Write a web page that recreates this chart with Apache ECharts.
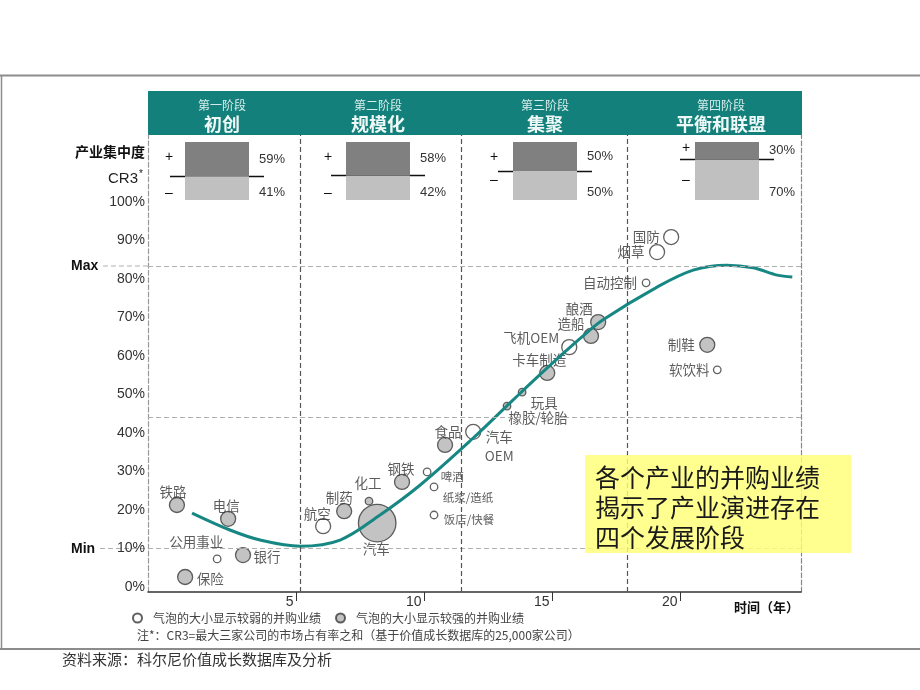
<!DOCTYPE html>
<html><head><meta charset="utf-8">
<script src="https://cdn.jsdelivr.net/npm/echarts@6/dist/echarts.min.js"></script>
<style>html,body{margin:0;padding:0;background:#fff}#c{width:920px;height:690px}</style>
</head><body><div id="c"></div>
<script>
// ---------- data ----------
const industries = ['铁路','电信','公用事业','银行','保险','航空','制药','化工','汽车','钢铁','啤酒','纸浆/造纸','饭店/快餐','食品','汽车OEM','橡胶/轮胎','玩具','卡车制造','飞机OEM','造船','酿酒','自动控制','烟草','国防','制鞋','软饮料'];
const years =      [0.33, 2.33, 1.90, 2.91, 0.65, 6.04, 6.86, 7.83, 8.15, 9.12, 10.10, 10.37, 10.37, 10.80, 11.90, 13.22, 13.81, 14.79, 15.65, 16.50, 16.78, 18.65, 19.08, 19.63, 21.04, 21.43];
const cr3 =        [21.3, 17.7, 7.3, 8.3, 2.6, 15.8, 19.7, 22.3, 16.6, 27.3, 29.9, 26.0, 18.7, 36.9, 40.3, 47.0, 50.6, 55.6, 62.3, 65.2, 68.8, 79.0, 87.0, 90.9, 62.9, 56.4];
const bubbleSize = [2, 2, 1, 2, 2, 2, 2, 1, 5, 2, 1, 1, 1, 2, 2, 1, 1, 2, 2, 2, 2, 1, 2, 2, 2, 1];
const strength =   ['强','强','弱','强','强','弱','强','强','强','强','弱','弱','弱','强','弱','强','强','强','弱','强','强','弱','弱','弱','强','弱'];

const curveYears = [0.92, 2.4, 3.58, 5.14, 6.7, 8.26, 9.83, 11.9, 13.46, 14.79, 16.1, 16.97, 19.08, 20.49, 21.8, 22.83, 23.77, 24.36];
const curveCR3 =   [19.2, 14.8, 12.2, 10.6, 12.2, 18.7, 26.5, 38.7, 48.6, 56.9, 64.7, 69.4, 77.9, 82.3, 83.6, 82.9, 81.0, 80.5];

const phaseBounds = [5.14, 11.43, 17.9];
const refLevels = [10, 44.2, 83.4];
const yTicks = [0,10,20,30,40,50,60,70,80,90,100];
const xTicks = [5,10,15,20];

const phaseSmall = ['第一阶段','第二阶段','第三阶段','第四阶段'];
const phaseNames = ['初创','规模化','集聚','平衡和联盟'];
const cr3Plus =  [59, 58, 50, 30];
const cr3Minus = [41, 42, 50, 70];

const weakName = '气泡的大小显示较弱的并购业绩';
const strongName = '气泡的大小显示较强的并购业绩';

// ---------- styles ----------
const CJK = '"Noto Sans CJK SC", sans-serif';
const LAT = '"Liberation Sans", Arial, sans-serif';
const labelOffset = {
 '铁路':[-4,-13], '电信':[-2,-13], '公用事业':[-21,-17], '银行':[24,2], '保险':[25,2], '航空':[-6,-12],
 '制药':[-5,-13], '化工':[-1,-18], '汽车':[-1,26], '钢铁':[-1,-13], '啤酒':[25,5], '纸浆/造纸':[34,11],
 '饭店/快餐':[35,5], '食品':[3,-13], '汽车OEM':[26,15], '橡胶/轮胎':[31,12], '玩具':[22,11], '卡车制造':[-8,-13],
 '飞机OEM':[-38,-9], '造船':[-20,-12], '酿酒':[-19,-13], '自动控制':[-36,0], '烟草':[-26,0], '国防':[-25,0],
 '制鞋':[-26,0], '软饮料':[-28,0]
};
const smallLabels = ['啤酒','纸浆/造纸','饭店/快餐'];
const labelText = {'汽车OEM':'汽车\nOEM'};
const panelCenters = [217, 378, 545, 727];
const headerCenters = [222, 378, 545, 721];

function bubbles(kind){
  const out = [];
  industries.forEach((n,i)=>{
    if(strength[i]!==kind) return;
    const off = labelOffset[n] || [0,0];
    out.push({
      name:n, value:[years[i], cr3[i], bubbleSize[i]],
      label:{offset:off, fontSize: smallLabels.includes(n)?11.5:13.5,
        formatter: labelText[n] || n, lineHeight:19}
    });
  });
  return out;
}

const chart = echarts.init(document.getElementById('c'), null, {renderer:'canvas'});

const grids = [{left:148, top:135, width:653, height:457, containLabel:false, outerBoundsMode:'none'}];
const xAxes = [{
  type:'value', gridIndex:0, min:-0.8, max:24.7,
  axisLine:{onZero:false, lineStyle:{color:'#333', width:1.5}},
  axisTick:{show:true, customValues:xTicks, length:9, lineStyle:{color:'#333'}},
  axisLabel:{customValues:xTicks, align:'right', margin:3, padding:[0,3,0,0], color:'#333', fontSize:14, fontFamily:LAT},
  splitLine:{show:false}
}];
const yAxes = [{
  type:'value', gridIndex:0, min:-1.3, max:117.4,
  axisLine:{show:true, onZero:false, lineStyle:{color:'#999', type:'dashed', width:1.2}},
  axisTick:{show:false},
  axisLabel:{customValues:yTicks, formatter:'{value}%', margin:3, color:'#333', fontSize:14, fontFamily:LAT},
  splitLine:{show:false}
},{
  type:'value', gridIndex:0, min:-1.3, max:117.4, position:'right',
  axisLine:{show:true, onZero:false, lineStyle:{color:'#888', type:'dashed', width:1.2}},
  axisTick:{show:false}, axisLabel:{show:false}, splitLine:{show:false}
}];

const series = [
  { // reference lines
    type:'line', xAxisIndex:0, yAxisIndex:0, data:[], z:1, silent:true,
    markLine:{ symbol:'none', silent:true, label:{show:false},
      data:[
        ...refLevels.map(v=>({yAxis:v, lineStyle:{color:'#b0b0b0', type:[5,3], width:1}})),
        ...phaseBounds.map(v=>({xAxis:v, lineStyle:{color:'#555', type:[5,3], width:1.2}}))
      ]}
  },
  {
    name:strongName, type:'scatter', xAxisIndex:0, yAxisIndex:0, z:3,
    symbolSize: v => v[2]*7.5,
    itemStyle:{color:'#b4b4b4', borderColor:'#3a3a3a', borderWidth:1.3},
    label:{show:true, position:'inside', align:'center', verticalAlign:'middle', color:'#333', fontFamily:CJK},
    data: bubbles('强')
  },
  {
    name:weakName, type:'scatter', xAxisIndex:0, yAxisIndex:0, z:3,
    symbolSize: v => v[2]*7.5,
    itemStyle:{color:'#ffffff', borderColor:'#3a3a3a', borderWidth:1.3},
    label:{show:true, position:'inside', align:'center', verticalAlign:'middle', color:'#333', fontFamily:CJK},
    data: bubbles('弱')
  },
  {
    type:'line', xAxisIndex:0, yAxisIndex:0, z:4, smooth:0.35, showSymbol:false, silent:true,
    data: curveYears.map((x,i)=>[x, curveCR3[i]]),
    lineStyle:{color:'#178783', width:3}
  }
];

// CR3 boxes (main grid owns yAxis 0 and 1, panel p uses yAxis p+2)
panelCenters.forEach((c,p)=>{
  const gi = p+1;
  grids.push({left:c-47, top:142, width:94, height:58, containLabel:false, outerBoundsMode:'none'});
  xAxes.push({type:'category', gridIndex:gi, data:['CR3'], show:false});
  yAxes.push({type:'value', gridIndex:gi, min:0, max:100, show:false});
  series.push({
    type:'bar', xAxisIndex:gi, yAxisIndex:gi+1, stack:'s'+p, barWidth:64, z:5,
    data:[cr3Minus[p]], itemStyle:{color:'#c0c0c0'},
    label:{show:true, position:['100%','100%'], align:'left', verticalAlign:'bottom', offset:[10,-1],
      formatter:'{c}%', color:'#333', fontSize:13, fontFamily:LAT},
    markLine:{symbol:'none', silent:true, label:{show:false},
      data:[{yAxis:cr3Minus[p]}], lineStyle:{color:'#111', type:'solid', width:1.3}}
  });
  series.push({
    type:'bar', xAxisIndex:gi, yAxisIndex:gi+1, stack:'s'+p, barWidth:64, z:5,
    data:[cr3Plus[p]], itemStyle:{color:'#808080'},
    label:{show:true, position:'right', distance:10, formatter:'{c}%', color:'#333', fontSize:13, fontFamily:LAT}
  });
});

const plusY = [157,157,157,148];
const minusY = [193,193,180,180];
const plusDx = [-48,-50,-51,-41];

const graphic = [
  {type:'line', shape:{x1:0,y1:75.5,x2:920,y2:75.5}, style:{stroke:'#8c8c8c', lineWidth:2}},
  {type:'line', shape:{x1:1.5,y1:75,x2:1.5,y2:649}, style:{stroke:'#8c8c8c', lineWidth:1.5}},
  {type:'line', shape:{x1:0,y1:649,x2:920,y2:649}, style:{stroke:'#8c8c8c', lineWidth:2}},
  {type:'rect', shape:{x:148,y:91,width:654,height:44}, style:{fill:'#14807b'}},
  // Max / Min extensions
  {type:'line', shape:{x1:103,y1:266,x2:148,y2:266}, style:{stroke:'#b0b0b0', lineDash:[5,3], lineWidth:1}},
  {type:'line', shape:{x1:100,y1:548.5,x2:148,y2:548.5}, style:{stroke:'#b0b0b0', lineDash:[5,3], lineWidth:1}},
  {type:'text', x:71, y:266, style:{text:'Max', font:'bold 14px '+LAT, fill:'#111', verticalAlign:'middle'}},
  {type:'text', x:71, y:549, style:{text:'Min', font:'bold 14px '+LAT, fill:'#111', verticalAlign:'middle'}},
  {type:'text', x:145, y:152, style:{text:'产业集中度', font:'bold 14px '+CJK, fill:'#111', align:'right', verticalAlign:'middle'}},
  {type:'text', x:138, y:179, style:{text:'CR3', font:'15px '+LAT, fill:'#222', align:'right', verticalAlign:'middle'}},
  {type:'text', x:139, y:174, style:{text:'*', font:'10px '+LAT, fill:'#222', align:'left', verticalAlign:'middle'}},
  // yellow box
  {type:'rect', z:10, shape:{x:585,y:455,width:266,height:98}, style:{fill:'rgba(255,255,120,0.82)'}},
  {type:'text', z:11, x:595, y:462, style:{text:'各个产业的并购业绩\n揭示了产业演进存在\n四个发展阶段', font:'25px '+CJK, lineHeight:30, fill:'#1a1a1a', verticalAlign:'top'}},
  {type:'text', x:734, y:607, style:{text:'时间（年）', font:'bold 13px '+CJK, fill:'#111', verticalAlign:'middle'}},
  {type:'text', x:137, y:635, style:{text:'注*：CR3=最大三家公司的市场占有率之和（基于价值成长数据库的25,000家公司）', font:'12px '+CJK, fill:'#444', verticalAlign:'middle'}},
  {type:'text', x:62, y:659, style:{text:'资料来源：科尔尼价值成长数据库及分析', font:'15px '+CJK, fill:'#333', verticalAlign:'middle'}}
];
phaseSmall.forEach((t,i)=>{
  graphic.push({type:'text', x:headerCenters[i], y:105, style:{text:t, font:'12px '+CJK, fill:'#d8eeec', align:'center', verticalAlign:'middle'}});
  graphic.push({type:'text', x:headerCenters[i], y:124, style:{text:phaseNames[i], font:'bold 18px '+CJK, fill:'#eef8f6', align:'center', verticalAlign:'middle'}});
});
panelCenters.forEach((c,i)=>{
  graphic.push({type:'text', x:c+plusDx[i], y:plusY[i], style:{text:'+', font:'14px '+LAT, fill:'#111', align:'center', verticalAlign:'middle'}});
  graphic.push({type:'text', x:c+plusDx[i], y:minusY[i], style:{text:'–', font:'14px '+LAT, fill:'#111', align:'center', verticalAlign:'middle'}});
});

chart.setOption({
  animation:false,
  backgroundColor:'#fff',
  grid:grids, xAxis:xAxes, yAxis:yAxes, series:series, graphic:graphic,
  legend:{data:[weakName, strongName], left:132, top:612, padding:0, icon:'circle', itemWidth:9, itemHeight:9, itemGap:14,
    selectedMode:false, textStyle:{fontSize:12, color:'#444', fontFamily:CJK, padding:[0,0,0,6]}}
});
</script></body></html>
